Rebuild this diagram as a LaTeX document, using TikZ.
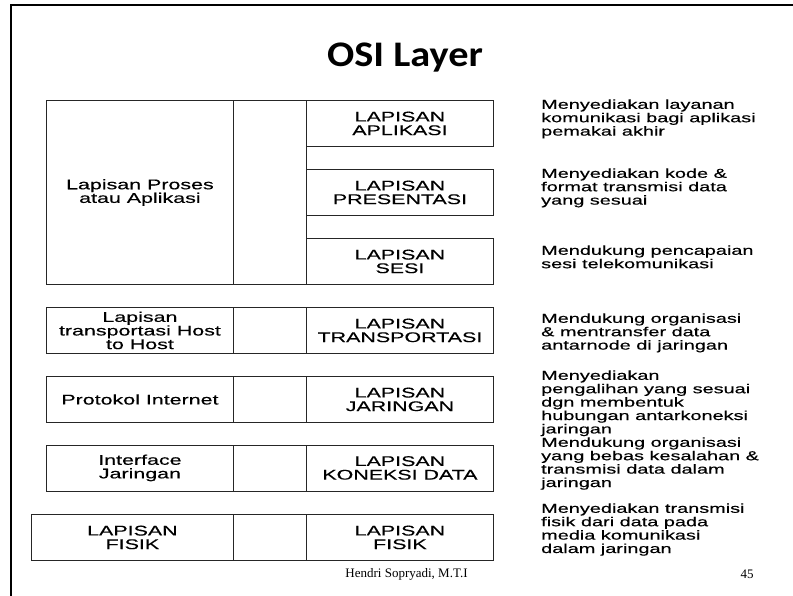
\documentclass[tikz,border=0pt]{standalone}
\usepackage{fontspec}
\setmainfont{Liberation Serif}
\newfontfamily\boxfont[FakeStretch=1.53,FakeBold=0.35]{Liberation Sans}
\newfontfamily\descfont[FakeStretch=1.53,FakeBold=0.35]{Liberation Sans}
\newfontfamily\titlefont[FakeStretch=1.12]{Carlito}
\begin{document}
\begin{tikzpicture}[x=1pt,y=-1pt,
  lay/.style={draw=black!85, line width=0.9pt, inner sep=0pt, anchor=north west,
    minimum height=46, align=center, font=\boxfont\fontsize{14}{13.6}\selectfont},
  desc/.style={inner sep=0pt, anchor=north west, align=left,
    font=\descfont\fontsize{13}{13.4}\selectfont},
  frameline/.style={line width=2.2pt, black}]
\useasboundingbox (0,0) rectangle (793,596);
% frame
\coordinate (ftl) at (11,5);
\coordinate (ftr) at (793,5);
\coordinate (fbl) at (11,596);
\draw[frameline] (ftr) -- (ftl) -- (fbl);
% title
\node[anchor=base, font=\titlefont\bfseries\fontsize{36}{40}\selectfont] (title) at (405,66.5) {OSI Layer};
% group 1
\node[lay, minimum width=187, minimum height=184] (proses) at (46,100) {Lapisan Proses\\atau Aplikasi};
\node[lay, minimum width=73, minimum height=184] (m1) at (233,100) {};
\node[lay, minimum width=187] (aplikasi) at (306,100) {LAPISAN\\APLIKASI};
\node[lay, minimum width=187] (presentasi) at (306,169) {LAPISAN\\PRESENTASI};
\node[lay, minimum width=187] (sesi) at (306,238) {LAPISAN\\SESI};
% group 2
\node[lay, minimum width=187] (host) at (46,307) {Lapisan\\transportasi Host\\to Host};
\node[lay, minimum width=73] (m2) at (233,307) {};
\node[lay, minimum width=187] (transport) at (306,307) {LAPISAN\\TRANSPORTASI};
% group 3
\node[lay, minimum width=187] (internet) at (46,376) {Protokol Internet};
\node[lay, minimum width=73] (m3) at (233,376) {};
\node[lay, minimum width=187] (jaringan) at (306,376) {LAPISAN\\JARINGAN};
% group 4
\node[lay, minimum width=187] (interface) at (46,444.5) {Interface\\Jaringan};
\node[lay, minimum width=73] (m4) at (233,444.5) {};
\node[lay, minimum width=187] (koneksi) at (306,444.5) {LAPISAN\\KONEKSI DATA};
% group 5
\node[lay, minimum width=202] (fisik1) at (31,514) {LAPISAN\\FISIK};
\node[lay, minimum width=73] (m5) at (233,514) {};
\node[lay, minimum width=187] (fisik2) at (306,514) {LAPISAN\\FISIK};
% descriptions
\node[desc] (d1) at (541,99.2) {Menyediakan layanan\\komunikasi bagi aplikasi\\pemakai akhir};
\node[desc] (d2) at (541,168.2) {Menyediakan kode \&\\format transmisi data\\yang sesuai};
\node[desc] (d3) at (541,245.2) {Mendukung pencapaian\\sesi telekomunikasi};
\node[desc] (d4) at (541,313.2) {Mendukung organisasi\\\& mentransfer data\\antarnode di jaringan};
\node[desc] (d5) at (541,370.2) {Menyediakan\\pengalihan yang sesuai\\dgn membentuk\\hubungan antarkoneksi\\jaringan};
\node[desc] (d6) at (541,437.2) {Mendukung organisasi\\yang bebas kesalahan \&\\transmisi data dalam\\jaringan};
\node[desc] (d7) at (541,503.2) {Menyediakan transmisi\\fisik dari data pada\\media komunikasi\\dalam jaringan};
% footer
\node[anchor=base, font=\fontsize{13}{15}\selectfont, inner sep=0pt] (author) at (406.5,577) {Hendri Sopryadi, M.T.I};
\node[anchor=base, font=\fontsize{13}{15}\selectfont, inner sep=0pt] (page) at (747,578) {45};
\end{tikzpicture}
\end{document}
